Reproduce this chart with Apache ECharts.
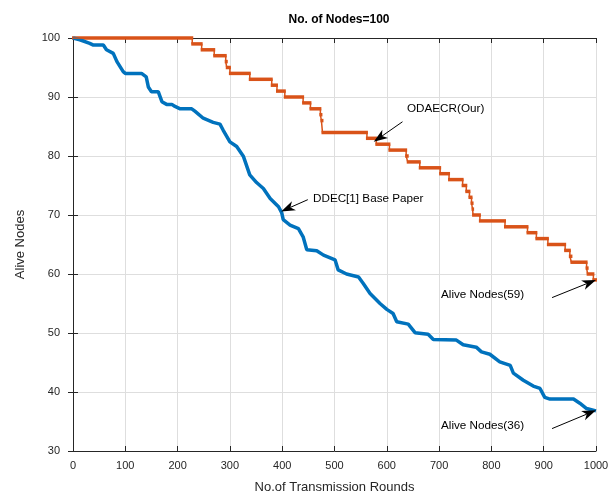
<!DOCTYPE html>
<html>
<head>
<meta charset="utf-8">
<script src="https://cdn.jsdelivr.net/npm/echarts@6/dist/echarts.min.js"></script>
<style>
html,body{margin:0;padding:0;background:#fff;}
#chart{width:611px;height:493px;}
</style>
</head>
<body>
<div id="chart"></div>
<script>
// ODAECR(Our): change points, value holds until next round
const odaecrRounds = [0,228,246,270,292,294,300,338,380,390,405,440,454,473,475,477,562,580,605,637,640,663,702,719,745,752,758,762,764,765,778,826,869,886,908,941,950,953,982,984,995,1000]
const odaecrAlive  = [100,99,98,97,96,95,94,93,92,91,90,89,88,87,86,84,83,82,81,80,79,78,77,76,75,74,73,72,71,70,69,68,67,66,65,64,63,62,61,60,59,59]

// DDEC[1] Base Paper
const ddecRounds = [0,13,32,39,58,64,77,84,96,100,131,140,144,150,163,170,179,189,195,205,227,233,249,268,281,287,300,313,326,338,351,364,377,393,399,402,415,431,440,447,466,479,501,507,523,546,555,568,587,600,612,619,641,654,679,689,733,746,771,781,797,816,836,842,861,880,893,902,912,957,969,982,1000]
const ddecAlive  = [100,99.7,99.1,98.8,98.8,98,97.4,96,94.3,94,94,93.4,91.7,90.9,90.9,89.2,88.75,88.75,88.4,88,88,87.6,86.4,85.7,85.4,84.4,82.4,81.6,79.9,76.8,75.5,74.5,72.8,71.4,70.4,69.2,68.3,67.7,66.3,64.1,63.95,63.2,62.4,60.7,60,59.5,58.4,56.7,55,54,53.3,51.9,51.5,50.05,49.8,48.9,48.8,48,47.6,46.8,46.4,45.1,44.5,43.2,42,41,40.6,39.1,38.8,38.8,38.1,37.2,36.8]

// annotation arrows: [tailRound, tailAlive, tipRound, tipAlive]
const arrows = [
  [630, 85.8, 575, 82.4],
  [449, 72.6, 398, 70.6],
  [916, 56.0, 1000, 59.0],
  [916, 33.8, 1000, 36.9]
]

let myecharts = echarts.init(document.getElementById('chart'))
const font = 'Liberation Sans, Arial, sans-serif'
const axisColor = '#262626'
const orange = '#D95319'
const blue = '#0072BD'

function pairs(xs, ys) {
  return xs.map((x, i) => [x, ys[i]])
}
// horizontal runs of the step line: [fromRound, toRound, alive]
function runs(xs, ys) {
  let out = []
  for (let i = 0; i < xs.length - 1; i++) out.push([xs[i], xs[i + 1], ys[i]])
  return out
}

let option = {
  animation: false,
  title: {
    text: 'No. of Nodes=100',
    left: 334, top: 9, textAlign: 'center',
    textStyle: {fontFamily: font, fontSize: 12, fontWeight: 'bold', color: '#000'}
  },
  grid: {left: 73, right: 15, top: 38, bottom: 42, containLabel: false, outerBoundsMode: 'none'},
  xAxis: [
    {
      type: 'value', min: 0, max: 1000, interval: 100,
      name: 'No.of Transmission Rounds', nameLocation: 'middle', nameGap: 30,
      nameTextStyle: {fontFamily: font, fontSize: 13, color: axisColor},
      axisLine: {show: true, lineStyle: {color: axisColor, width: 1}},
      axisTick: {show: true, inside: true, length: 5, lineStyle: {color: axisColor}},
      axisLabel: {fontFamily: font, fontSize: 11, color: axisColor, margin: 9, formatter: v => String(v)},
      splitLine: {show: true, lineStyle: {color: '#dedede', width: 1}}
    },
    {
      type: 'value', min: 0, max: 1000, interval: 100, position: 'top',
      axisLine: {show: true, lineStyle: {color: axisColor, width: 1}},
      axisTick: {show: true, inside: true, length: 5, lineStyle: {color: axisColor}},
      axisLabel: {show: false}, splitLine: {show: false}
    }
  ],
  yAxis: [
    {
      type: 'value', min: 30, max: 100, interval: 10,
      name: 'Alive Nodes', nameLocation: 'middle', nameGap: 46, nameRotate: 90,
      nameTextStyle: {fontFamily: font, fontSize: 13, color: axisColor},
      axisLine: {show: true, lineStyle: {color: axisColor, width: 1}},
      axisTick: {show: true, inside: true, length: 5, lineStyle: {color: axisColor}},
      axisLabel: {fontFamily: font, fontSize: 11, color: axisColor, margin: 13, padding: [0, 0, 10, 0]},
      splitLine: {show: true, lineStyle: {color: '#dedede', width: 1}}
    },
    {
      type: 'value', min: 30, max: 100, interval: 10, position: 'right',
      axisLine: {show: true, lineStyle: {color: axisColor, width: 1}},
      axisTick: {show: true, inside: true, length: 5, lineStyle: {color: axisColor}},
      axisLabel: {show: false}, splitLine: {show: false}
    }
  ],
  series: [
    {
      name: 'DDEC[1] Base Paper',
      type: 'line', showSymbol: false,
      lineStyle: {color: blue, width: 3.5},
      data: pairs(ddecRounds, ddecAlive)
    },
    {
      name: 'ODAECR(Our)',
      type: 'line', step: 'end', showSymbol: false,
      lineStyle: {color: orange, width: 1.5},
      data: pairs(odaecrRounds, odaecrAlive)
    },
    {
      // thick horizontal runs (dense markers in the original)
      name: 'ODAECR runs',
      type: 'custom',
      data: runs(odaecrRounds, odaecrAlive),
      renderItem: function (params, api) {
        let a = api.coord([api.value(0), api.value(2)])
        let b = api.coord([api.value(1), api.value(2)])
        return {
          type: 'line',
          shape: {x1: a[0] - 1, y1: a[1], x2: b[0] + 1, y2: b[1]},
          style: {stroke: orange, lineWidth: 3.5}
        }
      },
      encode: {x: [0, 1], y: 2},
      silent: true
    }
  ]
}
myecharts.setOption(option)

// arrows and their texts
function arrowGraphics() {
  let g = []
  arrows.forEach(a => {
    let t0 = myecharts.convertToPixel({gridIndex: 0}, [a[0], a[1]])
    let t1 = myecharts.convertToPixel({gridIndex: 0}, [a[2], a[3]])
    let dx = t1[0] - t0[0], dy = t1[1] - t0[1]
    let len = Math.sqrt(dx * dx + dy * dy)
    let ux = dx / len, uy = dy / len
    let nx = -uy, ny = ux
    let L = 14, W = 5
    let back = [t1[0] - L * ux, t1[1] - L * uy]
    let notch = [t1[0] - 0.72 * L * ux, t1[1] - 0.72 * L * uy]
    g.push({type: 'line', z: 100, shape: {x1: t0[0], y1: t0[1], x2: notch[0], y2: notch[1]}, style: {stroke: '#000', lineWidth: 1}})
    g.push({type: 'polygon', z: 100, shape: {points: [
      t1,
      [back[0] + W * nx, back[1] + W * ny],
      notch,
      [back[0] - W * nx, back[1] - W * ny]
    ]}, style: {fill: '#000'}})
  })
  const tf = '11.7px ' + font
  g.push({type: 'text', z: 100, left: 407, top: 103, style: {text: 'ODAECR(Our)', font: tf, fill: '#000'}})
  g.push({type: 'text', z: 100, left: 313, top: 193, style: {text: 'DDEC[1] Base Paper', font: tf, fill: '#000'}})
  g.push({type: 'text', z: 100, left: 441, top: 289, style: {text: 'Alive Nodes(59)', font: tf, fill: '#000'}})
  g.push({type: 'text', z: 100, left: 441, top: 420, style: {text: 'Alive Nodes(36)', font: tf, fill: '#000'}})
  return g
}
myecharts.setOption({graphic: arrowGraphics()})
</script>
</body>
</html>
